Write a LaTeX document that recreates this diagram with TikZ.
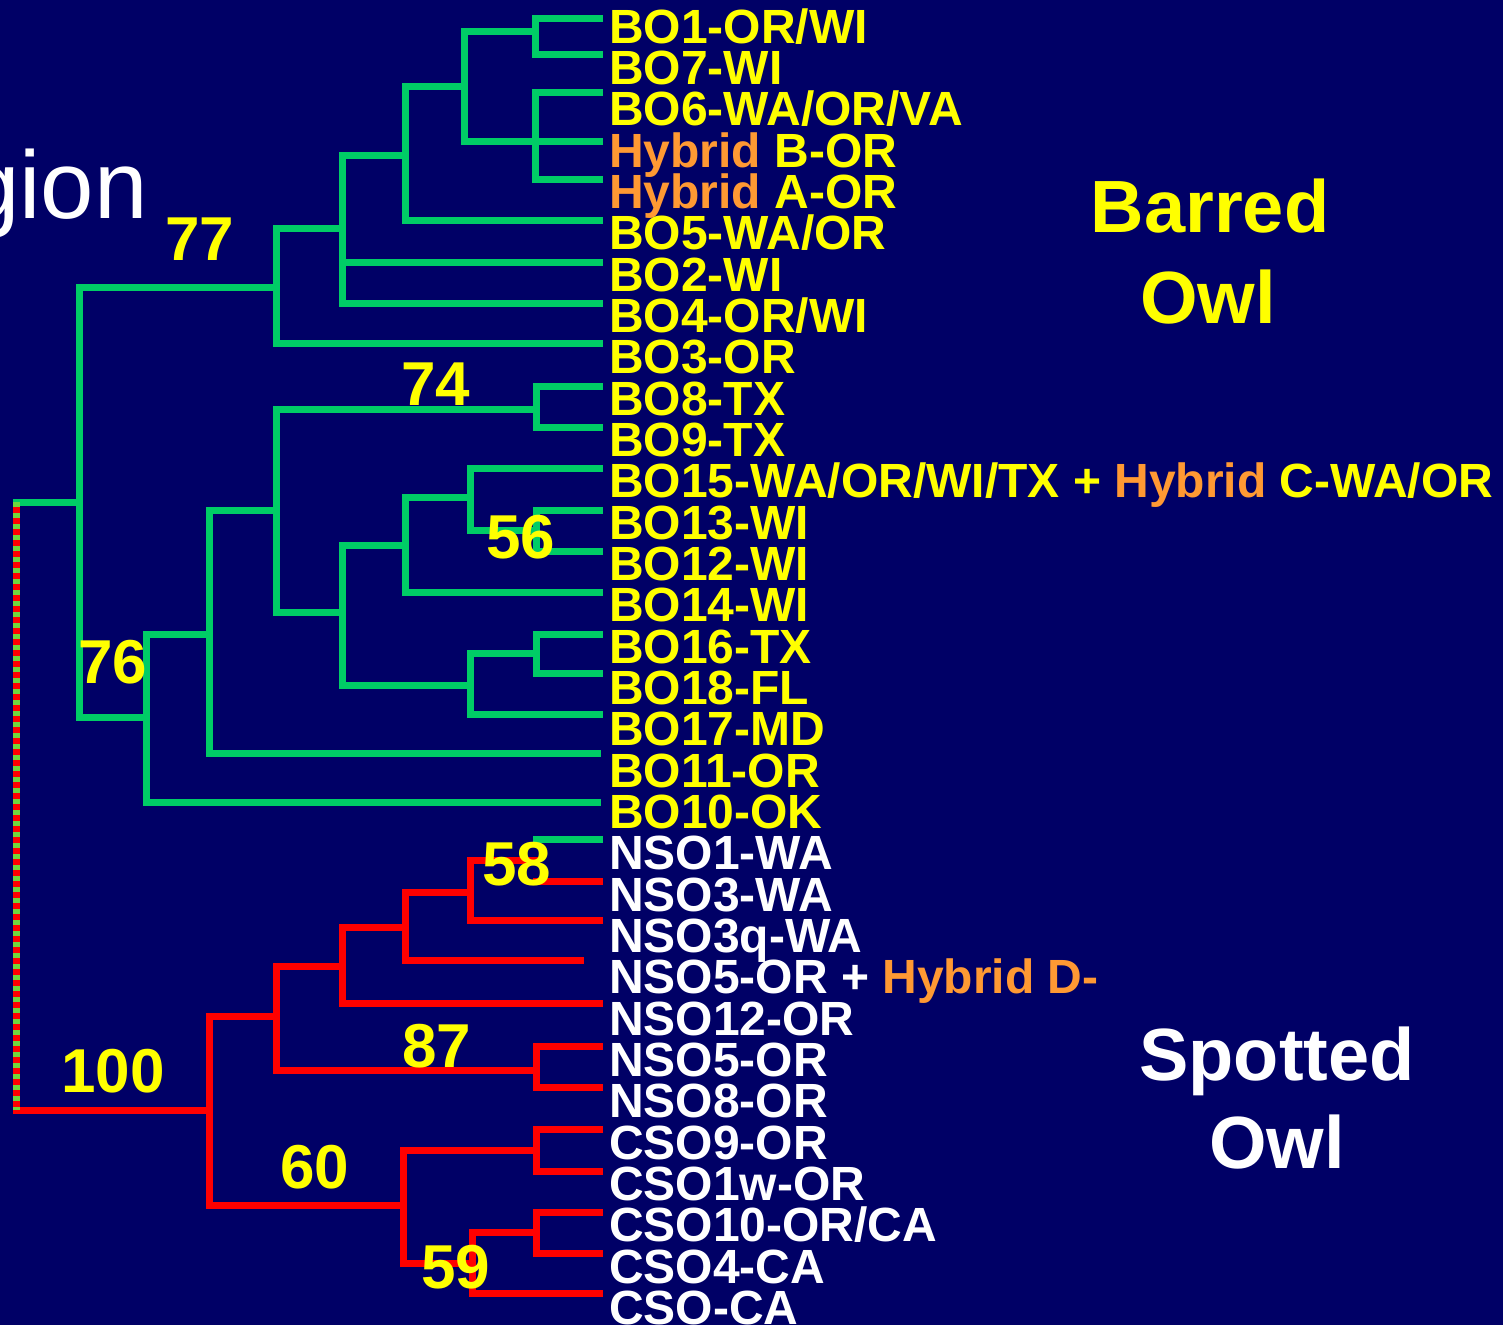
\documentclass[tikz,border=0pt]{standalone}
\usepackage{fontspec}
\setmainfont{Liberation Sans}
\definecolor{bgnavy}{RGB}{0,0,102}
\definecolor{treegreen}{RGB}{0,204,102}
\definecolor{treered}{RGB}{255,0,0}
\definecolor{stripegreen}{RGB}{110,215,60}
\definecolor{lblyellow}{RGB}{255,255,0}
\definecolor{lblorange}{RGB}{255,153,51}
\begin{document}
\begin{tikzpicture}[x=1pt,y=-1pt,
  gline/.style={draw=treegreen,line width=7pt,line cap=rect,line join=miter},
  rline/.style={draw=treered,line width=7pt,line cap=rect,line join=miter},
  leaf/.style={anchor=base west,inner sep=0pt,font=\fontsize{48}{48}\selectfont\bfseries},
  byel/.style={leaf,text=lblyellow},
  bwht/.style={leaf,text=white},
  boot/.style={anchor=base,inner sep=0pt,text=lblyellow,font=\fontsize{62}{62}\selectfont\bfseries},
  bigtitle/.style={anchor=base,inner sep=0pt,font=\fontsize{74}{74}\selectfont\bfseries}]
\fill[bgnavy] (0,0) rectangle (1503,1325);
\useasboundingbox (0,0) rectangle (1503,1325);
\clip (0,0) rectangle (1503,1325);

% ---------- tree nodes (junction points) ----------
\coordinate (rootT) at (16,502);
\coordinate (rootB) at (16,1110);
% green (barred owl)
\coordinate (gA) at (79,502);
\coordinate (gB) at (276,287);
\coordinate (gC) at (342,228);
\coordinate (gD) at (405,155);
\coordinate (gE) at (464,86);
\coordinate (gF) at (535,31);
\coordinate (gG) at (535,141);
\coordinate (gH) at (146,717);
\coordinate (gI) at (209,634);
\coordinate (gJ) at (276,510);
\coordinate (gK) at (536,409);
\coordinate (gL) at (342,612);
\coordinate (gM) at (405,545);
\coordinate (gN) at (470,497);
\coordinate (gO) at (536,530);
\coordinate (gP) at (470,685);
\coordinate (gQ) at (536,653);
% red (spotted owl)
\coordinate (rA) at (209,1110);
\coordinate (rB) at (276,1016);
\coordinate (rC) at (342,966);
\coordinate (rD) at (405,927);
\coordinate (rE) at (470,892);
\coordinate (rF) at (536,860);
\coordinate (rG) at (536,1070);
\coordinate (rH) at (403,1205);
\coordinate (rI) at (536,1150);
\coordinate (rJ) at (472,1263);
\coordinate (rK) at (536,1232);

% ---------- leaf ends ----------
\coordinate (e1) at (599,18);
\coordinate (e2) at (599,54);
\coordinate (e3) at (599,92);
\coordinate (e4) at (599,141);
\coordinate (e5) at (599,179);
\coordinate (e6) at (599,220);
\coordinate (e7) at (599,262);
\coordinate (e8) at (599,303);
\coordinate (e9) at (599,343);
\coordinate (e10) at (599,386);
\coordinate (e11) at (599,427);
\coordinate (e12) at (599,468);
\coordinate (e13) at (599,510);
\coordinate (e14) at (599,551);
\coordinate (e15) at (599,592);
\coordinate (e16) at (599,634);
\coordinate (e17) at (599,673);
\coordinate (e18) at (599,714);
\coordinate (e19) at (597,753);
\coordinate (e20) at (597,802);
\coordinate (e21) at (599,839);
\coordinate (e22) at (599,881);
\coordinate (e23) at (599,920);
\coordinate (e24) at (580,960);
\coordinate (e25) at (599,1003);
\coordinate (e26) at (599,1046);
\coordinate (e27) at (599,1087);
\coordinate (e28) at (599,1129);
\coordinate (e29) at (599,1171);
\coordinate (e30) at (599,1212);
\coordinate (e31) at (599,1253);
\coordinate (e32) at (599,1293);

% ---------- green branches ----------
\draw[gline] (rootT) -- (gA);
\draw[gline] (gA) |- (gB);
\draw[gline] (gA) |- (gH);
\draw[gline] (gB) |- (gC);
\draw[gline] (gB) |- (e9);
\draw[gline] (gC) |- (gD);
\draw[gline] (gC) |- (e7);
\draw[gline] (gC) |- (e8);
\draw[gline] (gD) |- (gE);
\draw[gline] (gD) |- (e6);
\draw[gline] (gE) |- (gF);
\draw[gline] (gE) |- (gG);
\draw[gline] (gF) |- (e1);
\draw[gline] (gF) |- (e2);
\draw[gline] (gG) |- (e3);
\draw[gline] (gG) |- (e4);
\draw[gline] (gG) |- (e5);
\draw[gline] (gH) |- (gI);
\draw[gline] (gH) |- (e20);
\draw[gline] (gI) |- (gJ);
\draw[gline] (gI) |- (e19);
\draw[gline] (gJ) |- (gK);
\draw[gline] (gJ) |- (gL);
\draw[gline] (gK) |- (e10);
\draw[gline] (gK) |- (e11);
\draw[gline] (gL) |- (gM);
\draw[gline] (gL) |- (gP);
\draw[gline] (gM) |- (gN);
\draw[gline] (gM) |- (e15);
\draw[gline] (gN) |- (e12);
\draw[gline] (gN) |- (gO);
\draw[gline] (gO) |- (e13);
\draw[gline] (gO) |- (e14);
\draw[gline] (gP) |- (gQ);
\draw[gline] (gP) |- (e18);
\draw[gline] (gQ) |- (e16);
\draw[gline] (gQ) |- (e17);

% ---------- red branches ----------
\draw[rline] (rootB) -- (rA);
\draw[rline] (rA) |- (rB);
\draw[rline] (rA) |- (rH);
\draw[rline] (rB) |- (rC);
\draw[rline] (rB) |- (rG);
\draw[rline] (rC) |- (rD);
\draw[rline] (rC) |- (e25);
\draw[rline] (rD) |- (rE);
\draw[rline] (rD) |- (e24);
\draw[rline] (rE) |- (rF);
\draw[rline] (rE) |- (e23);
\draw[gline] (rF |- e21) -- (e21);
\draw[rline] (rF |- e22) -- (e22);
\draw[rline] (rG) |- (e26);
\draw[rline] (rG) |- (e27);
\draw[rline] (rH) |- (rI);
\draw[rline] (rH) |- (rJ);
\draw[rline] (rI) |- (e28);
\draw[rline] (rI) |- (e29);
\draw[rline] (rJ) |- (rK);
\draw[rline] (rJ) |- (e32);
\draw[rline] (rK) |- (e30);
\draw[rline] (rK) |- (e31);

% ---------- root (striped) ----------
\draw[treered,line width=7pt] (rootT) -- (rootB);
\draw[stripegreen,line width=7pt,dash pattern=on 5pt off 6pt] (rootT) -- (rootB);

% ---------- bootstrap values ----------
\node[boot] (b77) at (200,260) {77};
\node[boot] (b74) at (436,405) {74};
\node[boot] (b56) at (521,558) {56};
\node[boot] (b76) at (113,683) {76};
\node[boot] (b58) at (517,885) {58};
\node[boot] (b87) at (437,1067) {87};
\node[boot] (b100) at (113,1092) {100};
\node[boot] (b60) at (315,1188) {60};
\node[boot] (b59) at (456,1288) {59};

% ---------- leaf labels ----------
\node[byel] (t1) at (609,43) {BO1-OR/WI};
\node[byel] (t2) at (609,84.3) {BO7-WI};
\node[byel] (t3) at (609,125.7) {BO6-WA/OR/VA};
\node[byel] (t4) at (609,167) {\textcolor{lblorange}{Hybrid} B-OR};
\node[byel] (t5) at (609,208.3) {\textcolor{lblorange}{Hybrid} A-OR};
\node[byel] (t6) at (609,249.7) {BO5-WA/OR};
\node[byel] (t7) at (609,291) {BO2-WI};
\node[byel] (t8) at (609,332.3) {BO4-OR/WI};
\node[byel] (t9) at (609,373.6) {BO3-OR};
\node[byel] (t10) at (609,415) {BO8-TX};
\node[byel] (t11) at (609,456.3) {BO9-TX};
\node[byel] (t12) at (609,497.6) {BO15-WA/OR/WI/TX + \textcolor{lblorange}{Hybrid} C-WA/OR};
\node[byel] (t13) at (609,539) {BO13-WI};
\node[byel] (t14) at (609,580.3) {BO12-WI};
\node[byel] (t15) at (609,621.6) {BO14-WI};
\node[byel] (t16) at (609,663) {BO16-TX};
\node[byel] (t17) at (609,704.3) {BO18-FL};
\node[byel] (t18) at (609,745.6) {BO17-MD};
\node[byel] (t19) at (609,787) {BO11-OR};
\node[byel] (t20) at (609,828.3) {BO10-OK};
\node[bwht] (t21) at (609,869.6) {NSO1-WA};
\node[bwht] (t22) at (609,911) {NSO3-WA};
\node[bwht] (t23) at (609,952.3) {NSO3q-WA};
\node[bwht] (t24) at (609,993.6) {NSO5-OR + \textcolor{lblorange}{Hybrid D-}};
\node[bwht] (t25) at (609,1035) {NSO12-OR};
\node[bwht] (t26) at (609,1076.3) {NSO5-OR};
\node[bwht] (t27) at (609,1117.6) {NSO8-OR};
\node[bwht] (t28) at (609,1159) {CSO9-OR};
\node[bwht] (t29) at (609,1200.3) {CSO1w-OR};
\node[bwht] (t30) at (609,1241.6) {CSO10-OR/CA};
\node[bwht] (t31) at (609,1283) {CSO4-CA};
\node[bwht] (t32) at (609,1324.3) {CSO-CA};

% ---------- group titles ----------
\node[bigtitle,text=lblyellow] (barred1) at (1210,232) {Barred};
\node[bigtitle,text=lblyellow] (barred2) at (1208,323) {Owl};
\node[bigtitle,text=white] (spot1) at (1277,1080) {Spotted};
\node[bigtitle,text=white] (spot2) at (1277,1168) {Owl};

% ---------- partial heading ----------
\node[anchor=base east,inner sep=0pt,text=white,font=\fontsize{96}{96}\selectfont] (heading) at (148,218) {gion};
\end{tikzpicture}
\end{document}
